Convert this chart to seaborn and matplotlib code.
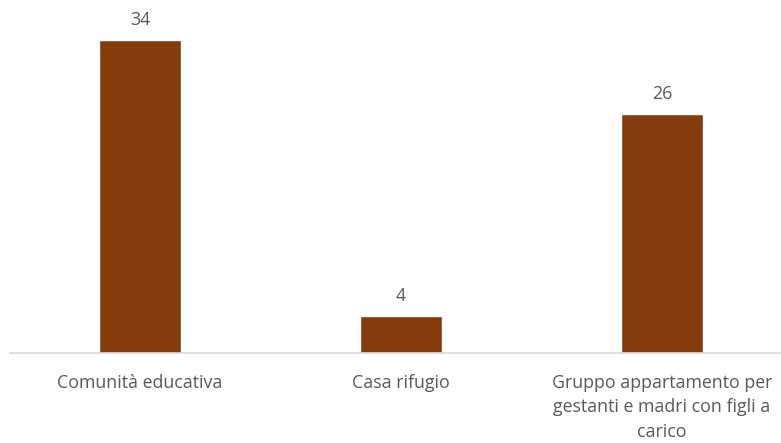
import matplotlib
matplotlib.use("Agg")
import matplotlib.pyplot as plt
import seaborn as sns
import pandas as pd

categories = ["Comunità educativa", "Casa rifugio",
              "Gruppo appartamento per\ngestanti e madri con figli a\ncarico"]
values = [34, 4, 26]

bar_color = "#843C0C"
text_color = "#595959"

sns.set_theme(style="white")
plt.rcParams["font.family"] = ["Open Sans", "DejaVu Sans"]

df = pd.DataFrame({"categoria": categories, "valore": values})

fig = plt.figure(figsize=(7.81, 4.43), dpi=100)
ax = fig.add_axes([10 / 781, 90 / 443, 770 / 781, 353 / 443])

sns.barplot(data=df, x="categoria", y="valore", color=bar_color,
            width=0.314, saturation=1, ax=ax)

ax.set_xlim(-0.498, 2.452)
ax.set_ylim(0, 38.4)

for i, v in enumerate(values):
    ax.annotate(str(v), (i, v), xytext=(0, 8), textcoords="offset points",
                ha="center", va="bottom", fontsize=12.8, color=text_color)

for s in ["top", "right", "left"]:
    ax.spines[s].set_visible(False)
ax.spines["bottom"].set_color("#D9D9D9")
ax.spines["bottom"].set_linewidth(1.2)

ax.set_yticks([])
ax.set_xlabel("")
ax.set_ylabel("")
ax.tick_params(axis="x", length=0, pad=15, labelsize=12.8, labelcolor=text_color)
for lbl in ax.get_xticklabels():
    lbl.set_linespacing(1.46)

fig.savefig("out.png", dpi=100)
